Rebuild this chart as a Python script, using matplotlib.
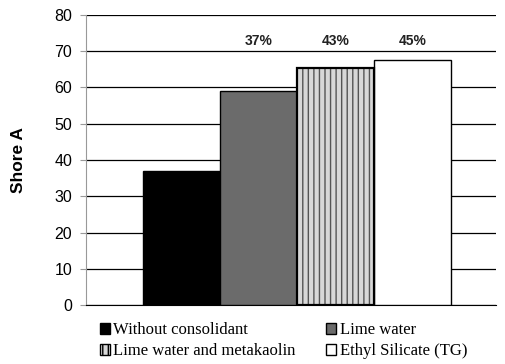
import matplotlib
matplotlib.use("Agg")
from matplotlib import pyplot as plt
from matplotlib.patches import Patch
import numpy as np

categories = ["Without consolidant", "Lime water", "Lime water and metakaolin", "Ethyl Silicate (TG)"]
shore_a = [37, 59, 65.3, 67.5]
increase = ["", "37%", "43%", "45%"]

fig = plt.figure(figsize=(5.06, 3.64), dpi=100)
ax = fig.add_axes([0.170, 0.162, 0.810, 0.797])

x = np.arange(len(categories))
faces = ["black", "#6b6b6b", "#d8d8d8", "white"]

for i in range(len(categories)):
    if i == 2:
        ax.bar(x[i], shore_a[i], width=1.0, color=faces[i], edgecolor="#555555",
               hatch="|||", linewidth=0, zorder=3)
        ax.bar(x[i], shore_a[i], width=1.0, fill=False, edgecolor="black",
               linewidth=1.6, zorder=4)
    else:
        ax.bar(x[i], shore_a[i], width=1.0, color=faces[i], edgecolor="black",
               linewidth=1.0, zorder=3)

for i in range(len(categories)):
    if increase[i]:
        ax.text(x[i], 71.0, increase[i], ha="center", va="bottom",
                fontsize=10, fontweight="bold", family="Liberation Sans", color="#222222")

ax.set_xlim(-1.24, 4.08)
ax.set_ylim(0, 80)
ax.set_yticks(range(0, 81, 10))
ax.set_xticks([])
ax.yaxis.grid(True, color="black", linewidth=0.9, zorder=0)
ax.set_axisbelow(True)
for side in ["top", "right"]:
    ax.spines[side].set_visible(False)
ax.spines["left"].set_color("#999999")
ax.spines["bottom"].set_color("black")
ax.tick_params(axis="y", length=4, color="#999999", labelsize=11.5, pad=6)
for lab in ax.get_yticklabels():
    lab.set_family("Liberation Sans")
ax.set_ylabel("Shore A", fontsize=12.5, fontweight="bold", family="Liberation Sans", labelpad=20)

handles = []
for i in range(len(categories)):
    if i == 2:
        handles.append(Patch(facecolor=faces[i], edgecolor="black", hatch="|||", label=categories[i]))
    else:
        handles.append(Patch(facecolor=faces[i], edgecolor="black", label=categories[i]))
order = [0, 2, 1, 3]
fig.legend([handles[k] for k in order], [categories[k] for k in order], ncol=2,
           loc="upper left", bbox_to_anchor=(0.181, 0.138), frameon=False,
           prop={"family": "Liberation Serif", "size": 12},
           handlelength=0.6, handleheight=0.6, handletextpad=0.2,
           columnspacing=1.85, labelspacing=0.3, borderpad=0)

fig.savefig("out.png", dpi=100)
